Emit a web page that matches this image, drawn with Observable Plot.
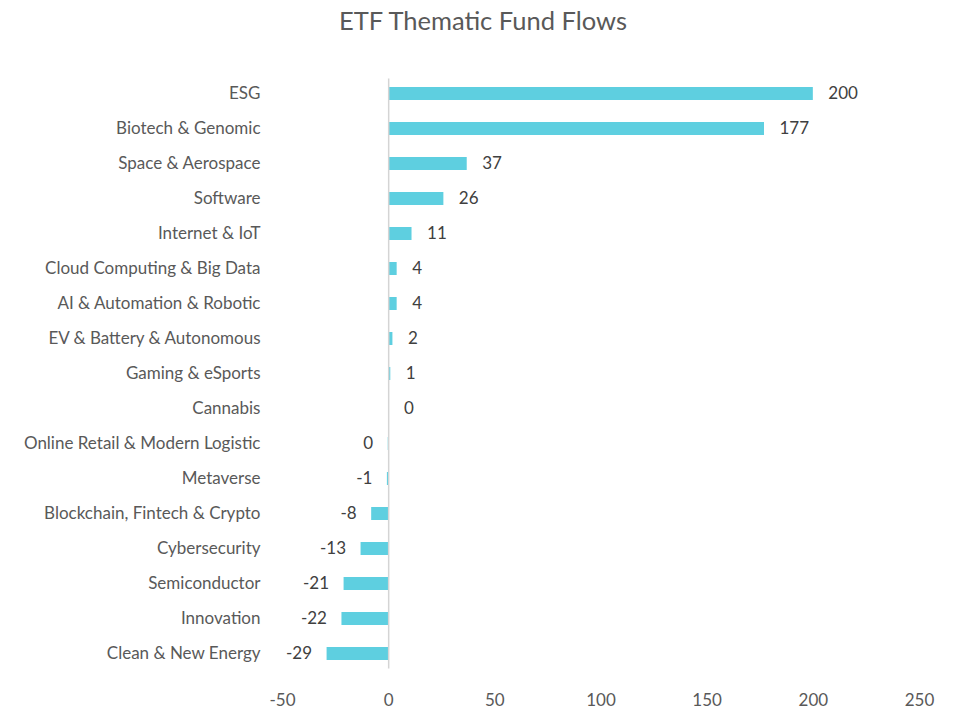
<!DOCTYPE html>
<html>
<head>
<meta charset="utf-8">
<script src="https://cdn.jsdelivr.net/npm/d3@7"></script>
<script src="https://cdn.jsdelivr.net/npm/@observablehq/plot@0.6"></script>
<style>
  html, body { margin: 0; padding: 0; background: #fff; }
  #title { height: 40px; line-height: 40px; text-align: center; font-family: Lato, "Open Sans", sans-serif; font-size: 25.5px; color: #595959; padding-left: 10px; }
  #chart svg { display: block; }
</style>
</head>
<body>
<div id="title">ETF Thematic Fund Flows</div>
<div id="chart"></div>
<script>
const categories = [
  "ESG", "Biotech & Genomic", "Space & Aerospace", "Software", "Internet & IoT",
  "Cloud Computing & Big Data", "AI & Automation & Robotic", "EV & Battery & Autonomous",
  "Gaming & eSports", "Cannabis", "Online Retail & Modern Logistic", "Metaverse",
  "Blockchain, Fintech & Crypto", "Cybersecurity", "Semiconductor", "Innovation", "Clean & New Energy"
];
const flows = [200, 177, 37, 26, 11, 4, 4, 2, 1, 0.2, -0.2, -0.6, -8, -13, -21, -22, -29];
const xTicks = [-50, 0, 50, 100, 150, 200, 250];

const data = categories.map((c, i) => ({category: c, value: flows[i]}));
const fmt = v => String(Math.round(v) === 0 ? 0 : Math.round(v));

const chart = Plot.plot({
  width: 956,
  height: 670,
  marginLeft: 282,
  marginRight: 37,
  marginTop: 35.5,
  marginBottom: 38.5,
  style: {fontFamily: "Lato, 'Open Sans', sans-serif", fontSize: "17px", color: "#595959", background: "#fff"},
  x: {domain: [-50, 250], ticks: xTicks, label: null},
  y: {domain: categories, label: null, paddingInner: 0.63, paddingOuter: 0.315},
  marks: [
    Plot.barX(data, {x: "value", y: "category", fill: "#5ECFE0"}),
    Plot.ruleX([0], {stroke: "#d4d4d4", strokeWidth: 1.5, insetTop: 3, insetBottom: 3}),
    Plot.text(data.filter(d => d.value >= 0), {x: "value", y: "category", text: d => fmt(d.value), dx: 15, textAnchor: "start", fill: "#404040", fontSize: 17}),
    Plot.text(data.filter(d => d.value < 0), {x: "value", y: "category", text: d => fmt(d.value), dx: -15, textAnchor: "end", fill: "#404040", fontSize: 17}),
    Plot.axisY({tickSize: 0, tickPadding: 22, fontSize: 17, fill: "#595959"}),
    Plot.axisX({ticks: xTicks, tickSize: 0, tickPadding: 22, fontSize: 17, fill: "#595959", tickFormat: d => String(d)})
  ]
});
document.getElementById("chart").appendChild(chart);
</script>
</body>
</html>
